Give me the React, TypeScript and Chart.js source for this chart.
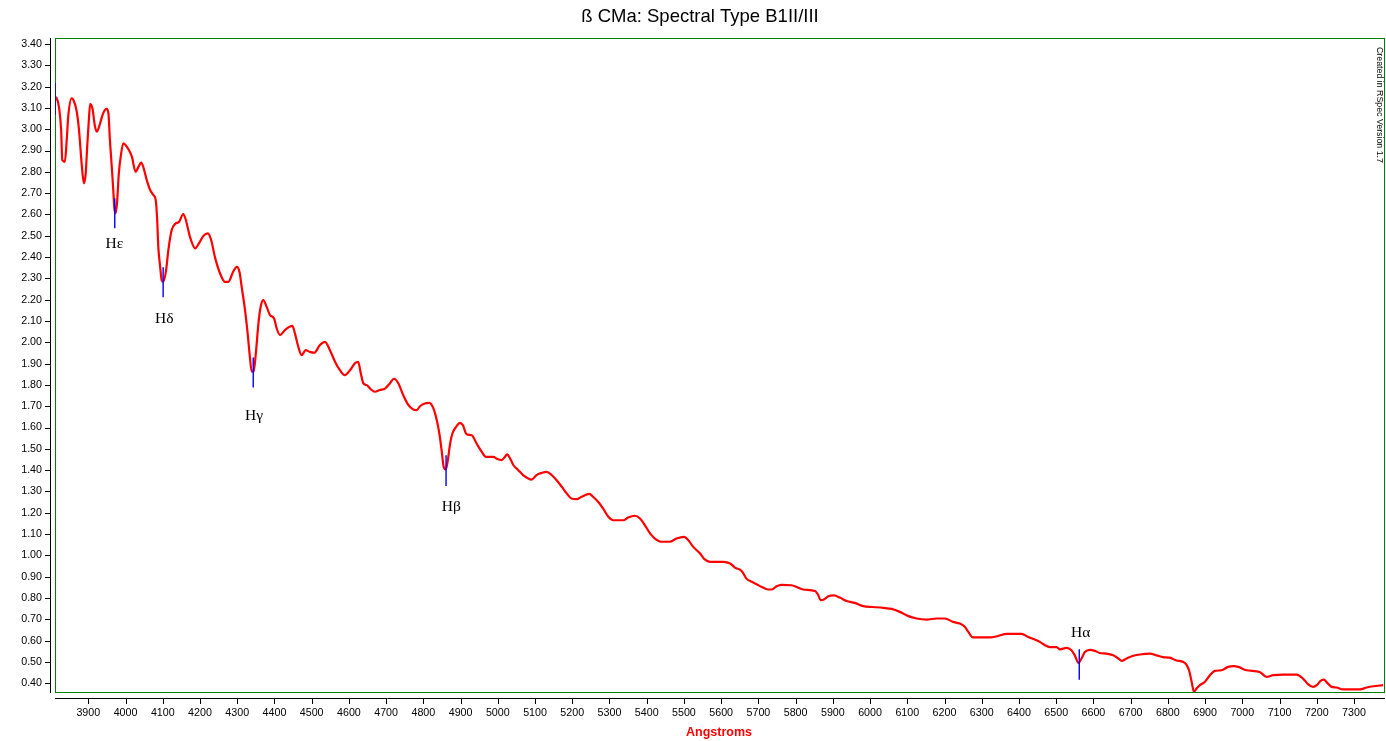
import React, { useEffect, useRef } from 'react';
import { Chart, registerables } from 'chart.js';

Chart.register(...registerables);

const TITLE = 'ß CMa: Spectral Type B1II/III';
const X_TITLE = 'Angstroms';
const SIDE_NOTE = 'Created in RSpec Version 1.7';

const WAVELENGTH = [
  3811, 3815, 3821, 3827, 3830, 3837, 3842, 3846, 3855, 3860, 3869, 3875, 3882, 3888, 3893, 3897,
  3902, 3905, 3911, 3918, 3923, 3929, 3940, 3949, 3954, 3958, 3963, 3967, 3970, 3973, 3977, 3982,
  3987, 3994, 4000, 4009, 4017, 4027, 4034, 4042, 4048, 4057, 4066, 4075, 4081, 4085, 4088, 4093,
  4097, 4101, 4109, 4115, 4124, 4133, 4144, 4155, 4162, 4173, 4187, 4197, 4209, 4221, 4230, 4240,
  4254, 4267, 4276, 4289, 4299, 4306, 4312, 4321, 4328, 4334, 4339, 4344, 4350, 4357, 4363, 4370,
  4379, 4388, 4399, 4406, 4415, 4428, 4448, 4455, 4464, 4473, 4484, 4495, 4507, 4522, 4536, 4549,
  4563, 4576, 4589, 4603, 4616, 4625, 4632, 4639, 4648, 4657, 4670, 4683, 4697, 4710, 4721, 4733,
  4746, 4760, 4773, 4782, 4791, 4804, 4816, 4827, 4836, 4843, 4849, 4855, 4860, 4865, 4872, 4878,
  4888, 4898, 4906, 4916, 4930, 4943, 4957, 4968, 4988, 4999, 5010, 5019, 5025, 5033, 5042, 5055,
  5068, 5082, 5091, 5104, 5118, 5131, 5145, 5158, 5172, 5185, 5198, 5212, 5225, 5246, 5256, 5270,
  5283, 5297, 5310, 5337, 5350, 5368, 5382, 5395, 5409, 5422, 5440, 5462, 5480, 5500, 5512, 5525,
  5543, 5556, 5570, 5606, 5624, 5637, 5655, 5668, 5682, 5695, 5709, 5726, 5736, 5749, 5762, 5789,
  5803, 5820, 5852, 5861, 5867, 5876, 5888, 5903, 5919, 5937, 5959, 5982, 6008, 6035, 6058, 6080,
  6103, 6125, 6152, 6179, 6201, 6223, 6241, 6255, 6264, 6276, 6322, 6344, 6367, 6407, 6425, 6447,
  6456, 6470, 6483, 6501, 6510, 6528, 6541, 6550, 6560, 6568, 6577, 6591, 6604, 6617, 6635, 6653,
  6667, 6676, 6689, 6703, 6725, 6752, 6770, 6787, 6805, 6823, 6846, 6857, 6864, 6870, 6877, 6886,
  6899, 6913, 6926, 6944, 6962, 6977, 6989, 7011, 7047, 7065, 7083, 7110, 7146, 7163, 7177, 7190,
  7200, 7210, 7219, 7228, 7240, 7253, 7271, 7316, 7334, 7352, 7378,
];

const FLUX = [
  3.150, 3.145, 3.106, 2.996, 2.855, 2.847, 2.949, 3.059, 3.145, 3.137, 3.082, 2.996, 2.840, 2.746, 2.793, 2.918,
  3.059, 3.118, 3.098, 3.012, 2.988, 3.012, 3.075, 3.095, 3.075, 2.949, 2.824, 2.715, 2.629, 2.605, 2.652, 2.793,
  2.871, 2.934, 2.926, 2.902, 2.871, 2.800, 2.821, 2.843, 2.821, 2.761, 2.715, 2.691, 2.668, 2.574, 2.448, 2.354,
  2.292, 2.284, 2.339, 2.433, 2.527, 2.555, 2.566, 2.602, 2.574, 2.495, 2.441, 2.464, 2.499, 2.511, 2.480, 2.401,
  2.323, 2.284, 2.284, 2.331, 2.354, 2.331, 2.260, 2.151, 2.042, 1.932, 1.862, 1.862, 1.948, 2.089, 2.167, 2.198,
  2.167, 2.128, 2.112, 2.065, 2.034, 2.057, 2.077, 2.042, 1.979, 1.940, 1.963, 1.955, 1.951, 1.987, 2.002, 1.963,
  1.908, 1.869, 1.846, 1.869, 1.901, 1.908, 1.854, 1.807, 1.799, 1.783, 1.768, 1.776, 1.783, 1.807, 1.829, 1.807,
  1.752, 1.705, 1.685, 1.682, 1.700, 1.713, 1.716, 1.690, 1.635, 1.572, 1.494, 1.413, 1.403, 1.439, 1.525, 1.572,
  1.603, 1.622, 1.611, 1.569, 1.564, 1.525, 1.486, 1.462, 1.462, 1.452, 1.447, 1.462, 1.474, 1.455, 1.423, 1.400,
  1.377, 1.361, 1.356, 1.377, 1.387, 1.392, 1.377, 1.353, 1.322, 1.291, 1.267, 1.264, 1.275, 1.289, 1.275, 1.251,
  1.220, 1.181, 1.165, 1.165, 1.178, 1.186, 1.173, 1.142, 1.103, 1.079, 1.064, 1.064, 1.079, 1.087, 1.071, 1.040,
  1.010, 0.981, 0.970, 0.970, 0.962, 0.943, 0.927, 0.891, 0.876, 0.865, 0.852, 0.840, 0.840, 0.855, 0.862, 0.860,
  0.852, 0.840, 0.833, 0.813, 0.790, 0.793, 0.808, 0.812, 0.802, 0.786, 0.777, 0.762, 0.758, 0.754, 0.749, 0.735,
  0.715, 0.704, 0.699, 0.704, 0.704, 0.688, 0.680, 0.664, 0.641, 0.615, 0.615, 0.622, 0.632, 0.632, 0.617, 0.602,
  0.594, 0.578, 0.570, 0.570, 0.559, 0.566, 0.555, 0.531, 0.495, 0.516, 0.547, 0.557, 0.552, 0.542, 0.539, 0.531,
  0.516, 0.505, 0.516, 0.527, 0.535, 0.539, 0.531, 0.523, 0.520, 0.507, 0.495, 0.460, 0.406, 0.360, 0.375, 0.391,
  0.406, 0.438, 0.458, 0.461, 0.477, 0.480, 0.477, 0.461, 0.453, 0.430, 0.438, 0.441, 0.441, 0.422, 0.395, 0.383,
  0.391, 0.411, 0.417, 0.402, 0.383, 0.380, 0.371, 0.371, 0.380, 0.386, 0.391,
];

const X_MIN = 3810.5;
const X_MAX = 7380.6;
const Y_MIN = 0.359;
const Y_MAX = 3.428;

const X_TICKS = [3900, 4000, 4100, 4200, 4300, 4400, 4500, 4600, 4700, 4800, 4900, 5000, 5100, 5200, 5300,
  5400, 5500, 5600, 5700, 5800, 5900, 6000, 6100, 6200, 6300, 6400, 6500, 6600, 6700, 6800, 6900, 7000,
  7100, 7200, 7300];
const Y_TICKS = [0.4, 0.5, 0.6, 0.7, 0.8, 0.9, 1.0, 1.1, 1.2, 1.3, 1.4, 1.5, 1.6, 1.7, 1.8, 1.9, 2.0,
  2.1, 2.2, 2.3, 2.4, 2.5, 2.6, 2.7, 2.8, 2.9, 3.0, 3.1, 3.2, 3.3, 3.4];

// Spectral line markers
const LINE_NAMES = ['', 'Hε', 'Hδ', 'Hγ', 'Hβ', 'Hα'];
const LINE_WAVELENGTH = [3810.9, 3971, 4101, 4343, 4861, 6562];
const LINE_LOW = [3.067, 2.535, 2.211, 1.788, 1.326, 0.417];
const LINE_HIGH = [3.217, 2.676, 2.352, 1.929, 1.470, 0.560];
const LABEL_WAVELENGTH = [0, 3970, 4104, 4345, 4875, 6566];
const LABEL_FLUX = [0, 2.444, 2.092, 1.634, 1.209, 0.616];

const decorPlugin = {
  id: 'decor',
  beforeDatasetsDraw(chart: any) {
    const { ctx, chartArea: a } = chart;
    ctx.save();
    ctx.strokeStyle = '#008000';
    ctx.lineWidth = 1;
    ctx.strokeRect(Math.round(a.left) + 0.5, Math.round(a.top) + 0.5,
      Math.round(a.right) - Math.round(a.left), Math.round(a.bottom) - Math.round(a.top));
    ctx.restore();
  },
  afterDraw(chart: any) {
    const { ctx, chartArea: a, scales } = chart;
    const xs = scales.x;
    const ys = scales.y;
    const L = Math.round(a.left);
    const B = Math.round(a.bottom);
    ctx.save();
    ctx.strokeStyle = '#000';
    ctx.lineWidth = 1;
    // y axis line + ticks
    ctx.beginPath();
    ctx.moveTo(L - 4.5, Math.round(a.top));
    ctx.lineTo(L - 4.5, B + 1);
    Y_TICKS.forEach((v) => {
      const p = Math.round(ys.getPixelForValue(v)) + 0.5;
      ctx.moveTo(L - 10, p);
      ctx.lineTo(L - 4.5, p);
    });
    // x axis line + ticks
    ctx.moveTo(L, B + 6.5);
    ctx.lineTo(Math.round(a.right) + 1, B + 6.5);
    X_TICKS.forEach((v) => {
      const p = Math.round(xs.getPixelForValue(v)) + 0.5;
      ctx.moveTo(p, B + 6.5);
      ctx.lineTo(p, B + 12);
    });
    ctx.stroke();

    // title
    ctx.fillStyle = '#000';
    ctx.font = '18.5px "Liberation Sans", Arial, sans-serif';
    ctx.textAlign = 'center';
    ctx.textBaseline = 'alphabetic';
    ctx.fillText(TITLE, 700, 21.5);

    // x axis title
    ctx.fillStyle = '#ff0000';
    ctx.font = 'bold 12.5px "Liberation Sans", Arial, sans-serif';
    ctx.fillText(X_TITLE, (a.left + a.right) / 2 - 0.5, 735.5);

    // line labels
    ctx.fillStyle = '#000';
    ctx.font = '15.5px "Liberation Serif", "Times New Roman", serif';
    LINE_NAMES.forEach((name, i) => {
      if (!name) return;
      ctx.fillText(name, xs.getPixelForValue(LABEL_WAVELENGTH[i]), ys.getPixelForValue(LABEL_FLUX[i]));
    });

    // side note, rotated
    ctx.save();
    ctx.translate(1379, 47);
    ctx.rotate(Math.PI / 2);
    ctx.font = '8.8px "Liberation Sans", Arial, sans-serif';
    ctx.textAlign = 'left';
    ctx.textBaseline = 'middle';
    ctx.fillStyle = '#000';
    ctx.fillText(SIDE_NOTE, 0, 0);
    ctx.restore();

    ctx.restore();
  },
};

export default function App() {
  const ref = useRef<HTMLCanvasElement | null>(null);

  useEffect(() => {
    if (!ref.current) return;
    const spectrum = WAVELENGTH.map((w, i) => ({ x: w, y: FLUX[i] }));
    const markerSets = LINE_WAVELENGTH.map((w, i) => ({
      label: LINE_NAMES[i] || 'edge',
      data: [{ x: w, y: LINE_LOW[i] }, { x: w, y: LINE_HIGH[i] }],
      borderColor: '#0000ff',
      borderWidth: 1.4,
      pointRadius: 0,
      fill: false,
      order: 0,
    }));
    const chart = new Chart(ref.current, {
      type: 'line',
      data: {
        datasets: [
          {
            label: 'Spectrum',
            data: spectrum,
            borderColor: '#ff0000',
            borderWidth: 2.2,
            pointRadius: 0,
            fill: false,
            cubicInterpolationMode: 'monotone',
            order: 1,
          } as any,
          ...markerSets,
        ],
      },
      options: {
        animation: false,
        responsive: true,
        maintainAspectRatio: false,
        layout: { padding: { top: 38, right: 2, left: 0, bottom: 0 } },
        plugins: { legend: { display: false }, tooltip: { enabled: false }, title: { display: false } },
        scales: {
          x: {
            type: 'linear',
            min: X_MIN,
            max: X_MAX,
            afterBuildTicks: (s: any) => { s.ticks = X_TICKS.map((v) => ({ value: v })); },
            afterFit: (s: any) => { s.height = 49; s.paddingLeft = 0; s.paddingRight = 0; },
            grid: { display: false, drawTicks: false },
            border: { display: false },
            ticks: {
              padding: 15,
              maxRotation: 0,
              autoSkip: false,
              color: '#000',
              font: { family: '"Liberation Sans", Arial, sans-serif', size: 10.7 },
              callback: (v: any) => String(v),
            },
          },
          y: {
            type: 'linear',
            min: Y_MIN,
            max: Y_MAX,
            afterBuildTicks: (s: any) => { s.ticks = Y_TICKS.map((v) => ({ value: v })); },
            afterFit: (s: any) => { s.width = 55; },
            grid: { display: false, drawTicks: false },
            border: { display: false },
            ticks: {
              padding: 13,
              autoSkip: false,
              color: '#000',
              font: { family: '"Liberation Sans", Arial, sans-serif', size: 10.7 },
              callback: (v: any) => Number(v).toFixed(2),
            },
          },
        },
      } as any,
      plugins: [decorPlugin],
    });
    return () => chart.destroy();
  }, []);

  return (
    <div style={{ position: 'absolute', left: 0, top: 0, width: 1386, height: 741, background: '#fff' }}>
      <canvas ref={ref} />
    </div>
  );
}
